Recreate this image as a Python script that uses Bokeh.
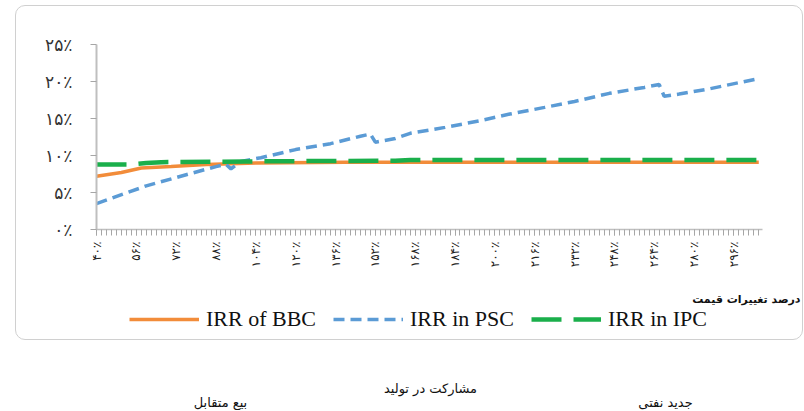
import math
from bokeh.plotting import figure
from bokeh.layouts import column
from bokeh.models import FixedTicker, Legend, LegendItem, Title
from bokeh.core.properties import value
from bokeh.embed import file_html
from bokeh.resources import INLINE

# ---- data ----
bbc_x = [40, 50, 58, 70, 84, 104, 140, 306]
bbc_y = [7.2, 7.7, 8.3, 8.5, 8.8, 9.0, 9.1, 9.1]

psc_x = [40, 60, 76, 88, 92, 94, 98, 106, 120, 134, 146, 150, 152, 160, 166,
         180, 194, 206, 220, 232, 246, 260, 266, 268, 274, 286, 306]
psc_y = [3.5, 5.9, 7.4, 8.5, 8.8, 8.2, 9.2, 9.7, 10.8, 11.6, 12.6, 12.9, 11.8,
         12.3, 13.0, 13.8, 14.7, 15.6, 16.5, 17.3, 18.4, 19.2, 19.6, 18.0, 18.3,
         19.0, 20.4]

ipc_x = [40, 54, 60, 66, 100, 160, 166, 306]
ipc_y = [8.8, 8.8, 9.0, 9.1, 9.2, 9.3, 9.4, 9.4]

x_tick_values = [40, 56, 72, 88, 104, 120, 136, 152, 168, 184, 200, 216, 232,
                 248, 264, 280, 296]
x_tick_labels = ["۴۰٪", "۵۶٪", "۷۲٪", "۸۸٪", "۱۰۴٪", "۱۲۰٪", "۱۳۶٪", "۱۵۲٪",
                 "۱۶۸٪", "۱۸۴٪", "۲۰۰٪", "۲۱۶٪", "۲۳۲٪", "۲۴۸٪", "۲۶۴٪",
                 "۲۸۰٪", "۲۹۶٪"]
x_minor_values = list(range(40, 308, 2))

y_tick_values = [0, 5, 10, 15, 20, 25]
y_tick_labels = ["۰٪", "۵٪", "۱۰٪", "۱۵٪", "۲۰٪", "۲۵٪"]

series_names = ["IRR of BBC", "IRR in PSC", "IRR in IPC"]
x_title = "درصد تغییرات قیمت"
bottom_texts = ["بیع متقابل", "مشارکت در تولید", "جدید نفتی"]

ORANGE = "#F28C3A"
BLUE = "#5B9BD5"
GREEN = "#1AAF4B"
AXIS = "#BFBFBF"
FA_FONT = "DejaVu Sans"
LEG_FONT = "Liberation Serif"
NAN = float("nan")

STYLES = [dict(line_color=ORANGE, line_width=3.5),
          dict(line_color=BLUE, line_width=3.5, line_dash="11 6"),
          dict(line_color=GREEN, line_width=4.5, line_dash="30 12")]


def blank(fig):
    fig.xgrid.visible = False
    fig.ygrid.visible = False
    fig.outline_line_color = None
    fig.border_fill_color = None
    fig.background_fill_color = None


# ---- main chart ----
p = figure(width=786, height=267, x_range=(40, 307.5), y_range=(0, 25),
           output_backend="svg", toolbar_location=None,
           min_border_left=80, min_border_right=40,
           min_border_top=38, min_border_bottom=44)
blank(p)

xa = p.xaxis[0]
xa.ticker = FixedTicker(ticks=x_tick_values, minor_ticks=x_minor_values)
xa.major_label_overrides = dict(zip(x_tick_values, x_tick_labels))
xa.major_label_orientation = math.pi / 2
xa.major_tick_in = 0
xa.major_tick_out = 6
xa.minor_tick_in = 0
xa.minor_tick_out = 6
xa.axis_line_color = AXIS
xa.axis_line_width = 1.5
xa.major_tick_line_color = "#A6A6A6"
xa.minor_tick_line_color = "#A6A6A6"
xa.major_label_text_font = FA_FONT
xa.major_label_text_font_size = "12px"
xa.major_label_text_color = "#222222"
xa.major_label_standoff = 6

ya = p.yaxis[0]
ya.ticker = FixedTicker(ticks=y_tick_values)
ya.major_label_overrides = dict(zip(y_tick_values, y_tick_labels))
ya.major_tick_in = 0
ya.major_tick_out = 6
ya.minor_tick_line_color = None
ya.axis_line_color = AXIS
ya.axis_line_width = 2
ya.major_tick_line_color = "#A6A6A6"
ya.major_label_text_font = FA_FONT
ya.major_label_text_font_size = "17px"
ya.major_label_text_color = "#333333"
ya.major_label_standoff = 18

p.line(bbc_x, bbc_y, **STYLES[0])
p.line(psc_x, psc_y, **STYLES[1])
p.line(ipc_x, ipc_y, **STYLES[2])

# ---- axis title and legend strip ----
c = figure(width=786, height=66, x_range=(0, 1), y_range=(0, 1),
           output_backend="svg", toolbar_location=None,
           x_axis_type=None, y_axis_type=None,
           min_border=0, min_border_left=0, min_border_right=0,
           min_border_top=32, min_border_bottom=0)
blank(c)
c.add_layout(Title(text=x_title, align="right", offset=-38, standoff=0,
                   text_font=FA_FONT, text_font_style="bold",
                   text_font_size="11px", text_color="#111111"), "above")
legend_renderers = [c.line([NAN], [NAN], **st) for st in STYLES]
legend = Legend(items=[LegendItem(label=n, renderers=[r])
                       for n, r in zip(series_names, legend_renderers)],
                location=(33, 7), orientation="horizontal",
                glyph_width=70, glyph_height=18, label_standoff=7, spacing=17,
                padding=0, margin=0, border_line_color=None,
                background_fill_alpha=0,
                label_text_font=LEG_FONT, label_text_font_size="22px",
                label_text_color="#111111")
c.add_layout(legend)

framed = column(p, c, spacing=0, margin=(5, 0, 0, 15),
                styles={"border": "1px solid #D0D0D0", "border-radius": "10px"})

# ---- captions under the chart ----
q = figure(width=804, height=70, x_range=(0, 804), y_range=(0, 70),
           output_backend="svg", toolbar_location=None,
           x_axis_type=None, y_axis_type=None,
           min_border=0, min_border_left=0, min_border_right=0,
           min_border_top=0, min_border_bottom=0)
blank(q)
q.text(x=[220, 430, 665], y=[8, 22, 8], text=bottom_texts,
       text_align="center", text_baseline="middle",
       text_font=value(FA_FONT), text_font_size="13px", text_color="#111111")

layout = column(framed, q, spacing=0)
open("out.html", "w").write(file_html(layout, INLINE))
